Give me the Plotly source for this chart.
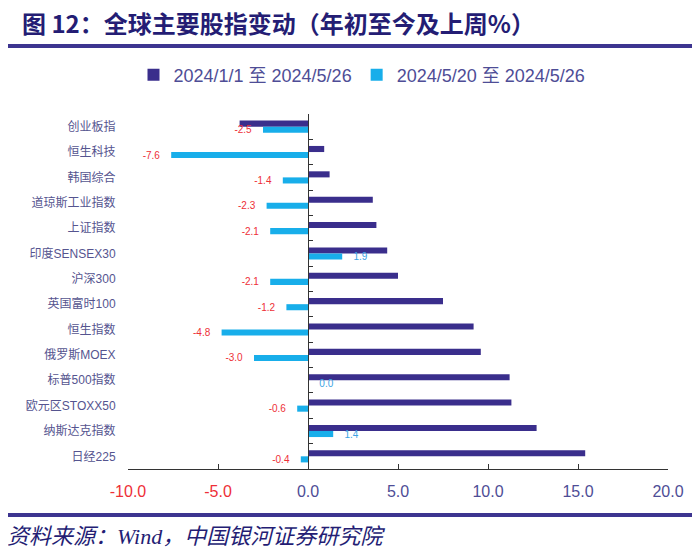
import plotly.graph_objects as go

categories = ["创业板指", "恒生科技", "韩国综合", "道琼斯工业指数", "上证指数", "印度SENSEX30",
              "沪深300", "英国富时100", "恒生指数", "俄罗斯MOEX", "标普500指数", "欧元区STOXX50",
              "纳斯达克指数", "日经225"]
ytd_values = [-3.8, 0.9, 1.2, 3.6, 3.8, 4.4, 5.0, 7.5, 9.2, 9.6, 11.2, 11.3, 12.7, 15.4]
week_values = [-2.5, -7.6, -1.4, -2.3, -2.1, 1.9, -2.1, -1.2, -4.8, -3.0, 0.0, -0.6, 1.4, -0.4]
series_names = ["2024/1/1 至 2024/5/26", "2024/5/20 至 2024/5/26"]
x_ticks = [-10, -5, 0, 5, 10, 15, 20]

DARK = "#3A2E8C"
LIGHT = "#18AEEA"
RED = "#EE2F37"
TXT = "#4E4D96"
NAVY = "#241D74"

OFF = 8  # page body margin offset
W, H = 700, 560
PLOT_L, PLOT_R, PLOT_T, PLOT_B = 128 - OFF, 668 - OFF, 114 - OFF, 469 - OFF
L, R, T, B = PLOT_L, W - PLOT_R, PLOT_T, H - PLOT_B
PW, PH = PLOT_R - PLOT_L, PLOT_B - PLOT_T


def px2x(px):
    return (px - OFF - PLOT_L) / PW


def py2y(py):
    return (PLOT_B - (py - OFF)) / PH


week_text = []
week_colors = []
for v in week_values:
    if v < 0:
        week_text.append(f"{v:.1f}" + "\u00a0" * 3)
        week_colors.append(RED)
    else:
        week_text.append("\u00a0" * 3 + f"{v:.1f}")
        week_colors.append("#3BA3E3")

fig = go.Figure()
fig.add_trace(go.Bar(
    y=categories, x=ytd_values, orientation="h", name=series_names[0],
    marker=dict(color=DARK, line=dict(width=0)),
))
fig.add_trace(go.Bar(
    y=categories, x=week_values, orientation="h", name=series_names[1],
    marker=dict(color=LIGHT, line=dict(width=0)),
    text=week_text, textposition="outside", constraintext="none", cliponaxis=False,
    textfont=dict(size=10, color=week_colors, family="Liberation Sans, Arial"),
))
# helper trace so the zero-axis (with boundary ticks) is drawn
fig.add_trace(go.Scatter(x=[0], y=[0], yaxis="y2", mode="markers",
                         marker=dict(opacity=0), showlegend=False, hoverinfo="skip"))

n = len(categories)
tick_text = []
for t in x_ticks:
    c = RED if t < 0 else TXT
    tick_text.append(f'<span style="color:{c}">{t:.1f}</span>')

fig.update_layout(
    width=W, height=H,
    margin=dict(l=L, r=R, t=T, b=B, pad=0, autoexpand=False),
    paper_bgcolor="white", plot_bgcolor="white",
    barmode="group", bargap=0.52, bargroupgap=0,
    showlegend=True,
    legend=dict(orientation="h", x=px2x(362), xanchor="center", y=py2y(75), yanchor="middle",
                font=dict(size=18, color=TXT, family="Liberation Sans, Noto Sans CJK SC"),
                bgcolor="rgba(0,0,0,0)", itemclick=False),
    xaxis=dict(range=[x_ticks[0], x_ticks[-1]], tickvals=x_ticks, ticktext=tick_text,
               showgrid=False, zeroline=False, showline=True, linecolor="#333333", linewidth=1,
               ticks="inside", ticklen=5, tickcolor="#333333", ticklabelstandoff=8,
               tickfont=dict(size=16, family="Liberation Sans, Arial", color=TXT)),
    yaxis=dict(autorange="reversed", showgrid=False, zeroline=False, showline=False,
               ticks="outside", ticklen=9, tickcolor="rgba(0,0,0,0)",
               tickfont=dict(size=12, color="#55548F", family="Liberation Sans, Noto Sans CJK SC")),
    yaxis2=dict(overlaying="y", anchor="free", position=1 / 3, side="left",
                range=[n - 0.5, -0.5], tickvals=[i - 0.5 for i in range(n + 1)],
                showticklabels=False, ticks="inside", ticklen=4, tickcolor="#333333",
                showline=True, linecolor="#333333", linewidth=1, showgrid=False, zeroline=False),
    font=dict(family="Liberation Sans, Noto Sans CJK SC"),
)

fig.add_annotation(text="<b>图 12：全球主要股指变动（年初至今及上周%）</b>",
                   xref="paper", yref="paper", x=px2x(20), y=py2y(23),
                   xanchor="left", yanchor="middle", showarrow=False,
                   font=dict(size=24, color=NAVY, family="Noto Sans CJK SC"))
fig.add_annotation(text="<i>资料来源：Wind，中国银河证券研究院</i>",
                   xref="paper", yref="paper", x=px2x(5), y=py2y(536),
                   xanchor="left", yanchor="middle", showarrow=False,
                   font=dict(size=22, color=NAVY, family="Liberation Serif, Noto Sans CJK SC"))
for yy in (46, 515):
    fig.add_shape(type="line", xref="paper", yref="paper",
                  x0=px2x(6), x1=px2x(708), y0=py2y(yy), y1=py2y(yy),
                  line=dict(color="#3D3590", width=4))

fig.write_html("out.html")
